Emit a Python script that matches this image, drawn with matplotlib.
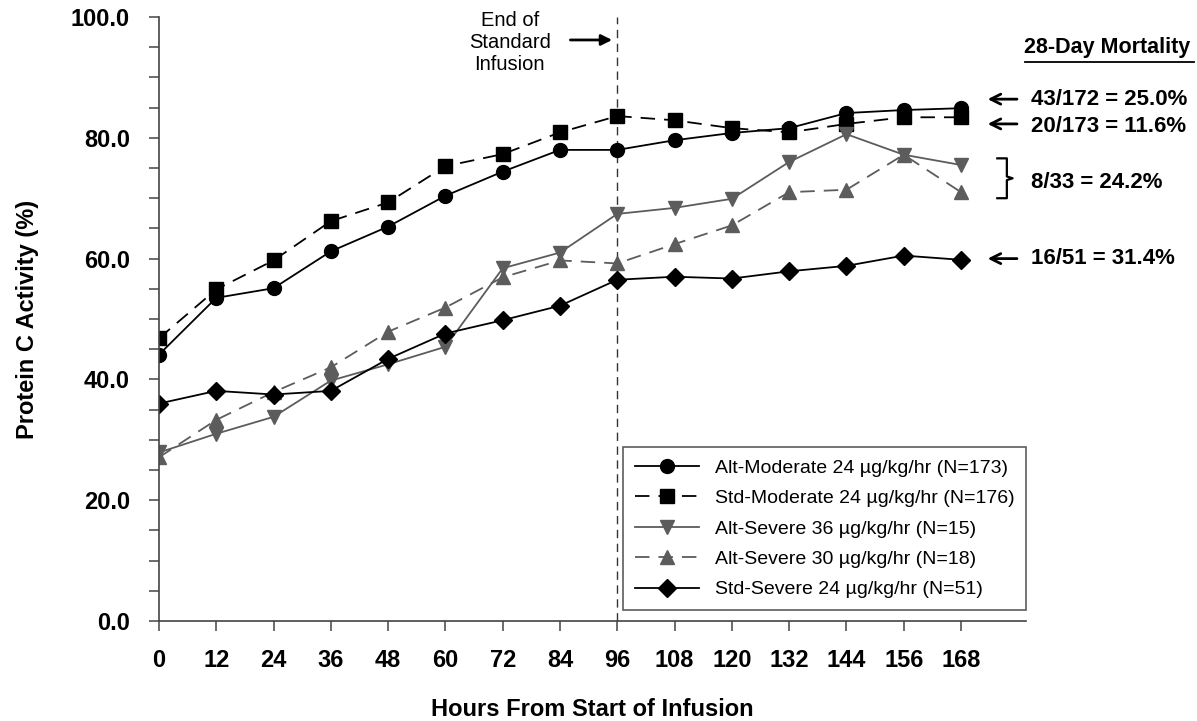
import matplotlib
matplotlib.use("Agg")
import matplotlib.pyplot as plt
from matplotlib.lines import Line2D

plt.rcParams['font.family'] = ['Liberation Sans', 'DejaVu Sans']

hours = [0, 12, 24, 36, 48, 60, 72, 84, 96, 108, 120, 132, 144, 156, 168]

alt_moderate = [44.1, 53.5, 55.1, 61.2, 65.3, 70.4, 74.4, 78.0, 78.0, 79.6, 80.8, 81.6, 84.1, 84.6, 84.9]
std_moderate = [46.8, 54.9, 59.7, 66.2, 69.3, 75.3, 77.3, 80.9, 83.6, 82.9, 81.6, 80.9, 82.3, 83.4, 83.4]
alt_severe_36 = [27.9, 31.0, 33.8, 39.8, 42.5, 45.4, 58.4, 61.0, 67.4, 68.4, 69.9, 76.0, 80.6, 77.2, 75.5]
alt_severe_30 = [27.1, 33.3, 37.9, 42.0, 47.9, 51.9, 56.9, 59.7, 59.2, 62.4, 65.5, 71.0, 71.4, 77.2, 71.0]
std_severe = [36.0, 38.1, 37.5, 38.1, 43.4, 47.6, 49.8, 52.2, 56.5, 57.0, 56.7, 57.9, 58.8, 60.5, 59.8]

labels = ["Alt-Moderate 24 \u00b5g/kg/hr (N=173)",
          "Std-Moderate 24 \u00b5g/kg/hr (N=176)",
          "Alt-Severe 36 \u00b5g/kg/hr (N=15)",
          "Alt-Severe 30 \u00b5g/kg/hr (N=18)",
          "Std-Severe 24 \u00b5g/kg/hr (N=51)"]

mortality = ["43/172 = 25.0%", "20/173 = 11.6%", "8/33 = 24.2%", "16/51 = 31.4%"]

gray = "#5c5c5c"

fig = plt.figure(figsize=(11.97, 7.21), dpi=100)
ax = fig.add_axes([0.1328, 0.1387, 0.7243, 0.8377])

ax.plot(hours, alt_moderate, color="black", lw=1.3, marker="o", ms=10, label=labels[0])
ax.plot(hours, std_moderate, color="black", lw=1.3, ls=(0, (8, 5)), marker="s", ms=9.5, label=labels[1])
ax.plot(hours, alt_severe_36, color=gray, lw=1.3, marker="v", ms=10, label=labels[2])
ax.plot(hours, alt_severe_30, color=gray, lw=1.3, ls=(0, (8, 5)), marker="^", ms=10, label=labels[3])
ax.plot(hours, std_severe, color="black", lw=1.3, marker="D", ms=9, label=labels[4])

# end of standard infusion marker
ax.axvline(96, color="#333333", lw=1.0, ls=(0, (6, 4)), zorder=0)

ax.set_xlim(0, 181.6)
ax.set_ylim(0, 100)
ax.set_xticks(hours)
ax.set_yticks([0, 20, 40, 60, 80, 100])
ax.set_yticks(range(0, 101, 5), minor=True)
ax.set_yticklabels([f"{v:.1f}" for v in [0, 20, 40, 60, 80, 100]])

ax.spines['top'].set_visible(False)
ax.spines['right'].set_visible(False)
for s in ['left', 'bottom']:
    ax.spines[s].set_color("#444444")
    ax.spines[s].set_linewidth(1.2)

ax.tick_params(axis='both', which='both', direction='out', length=7, width=1.1, color="#444444")
ax.tick_params(axis='x', pad=13, labelsize=17)
ax.tick_params(axis='y', pad=14, labelsize=17)
for t in ax.get_xticklabels() + ax.get_yticklabels():
    t.set_fontweight("bold")

ax.set_xlabel("Hours From Start of Infusion", fontsize=17, fontweight="bold", labelpad=19)
ax.set_ylabel("Protein C Activity (%)", fontsize=17, fontweight="bold", labelpad=23)

leg = ax.legend(loc="lower right", bbox_to_anchor=(1.0, 0.018), fontsize=14,
                frameon=True, fancybox=False, edgecolor="#333333", handlelength=3.3,
                handletextpad=0.8, labelspacing=0.66, borderpad=0.6, borderaxespad=0)
leg.get_frame().set_linewidth(1.2)

# infusion annotation
ax.text(73.5, 95.8, "End of\nStandard\nInfusion", ha="center", va="center",
        fontsize=14.5, linespacing=1.2)
ax.annotate("", xy=(95.5, 96.2), xytext=(85.6, 96.2),
            arrowprops=dict(arrowstyle="-|>", color="black", lw=2, mutation_scale=16))

# mortality column
ax.text(198.7, 94.9, "28-Day Mortality", ha="center", va="center", fontsize=15.5,
        fontweight="bold", clip_on=False)
ax.add_line(Line2D([181.4, 216.7], [92.6, 92.6], color="black", lw=1.3, clip_on=False))

text_x = 182.6
ax.text(text_x, 86.4, mortality[0], ha="left", va="center", fontsize=16, fontweight="bold")
ax.text(text_x, 81.8, mortality[1], ha="left", va="center", fontsize=16, fontweight="bold")
ax.text(text_x, 72.6, mortality[2], ha="left", va="center", fontsize=16, fontweight="bold")
ax.text(text_x, 60.0, mortality[3], ha="left", va="center", fontsize=16, fontweight="bold")

for yy in [86.4, 82.3, 60.0]:
    ax.annotate("", xy=(173.0, yy), xytext=(180.3, yy), annotation_clip=False,
                arrowprops=dict(arrowstyle="->", color="black", lw=2, mutation_scale=18))

# brace for the two severe alt groups
ax.add_line(Line2D([175.6, 177.6, 177.6, 178.8, 177.6, 177.6, 175.6],
                   [76.6, 76.6, 73.6, 73.3, 73.0, 70.0, 70.0],
                   color="black", lw=1.6, clip_on=False))

fig.savefig("out.png", dpi=100)
